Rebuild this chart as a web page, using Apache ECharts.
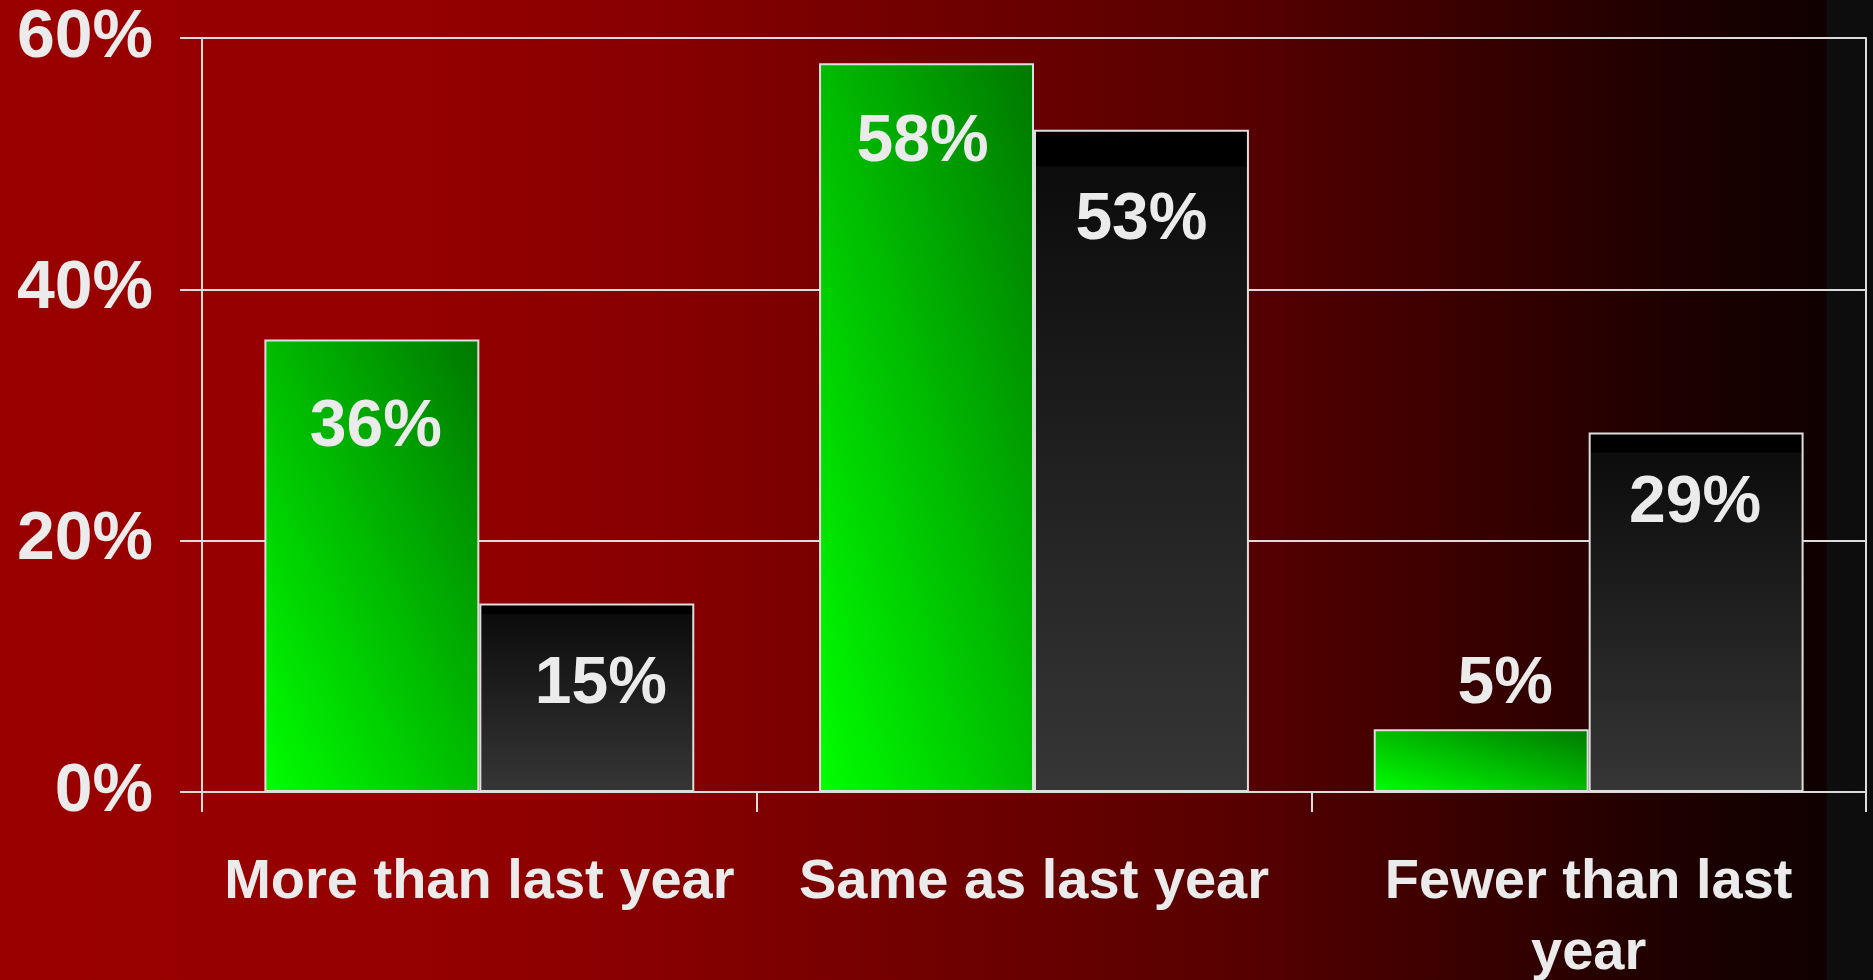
<!DOCTYPE html>
<html>
<head>
<meta charset="utf-8">
<script src="https://cdn.jsdelivr.net/npm/echarts@6/dist/echarts.min.js"></script>
<style>
  html, body { margin: 0; padding: 0; }
  #chart {
    width: 1873px; height: 980px;
    background: linear-gradient(to right, #990000 0px, #960000 400px, #880000 650px, #560000 1250px, #1e0000 1672px, #100000 1826px, #0e0e0e 1827px, #0c0c0c 1873px);
  }
</style>
</head>
<body>
<div id="chart"></div>
<script>
const categories = ['More than last year', 'Same as last year', 'Fewer than last year'];
const greenValues = [36, 58, 5];
const blackValues = [15, 52.7, 28.6];
const yTicks = [0, 20, 40, 60];

const FONT = '"Liberation Sans", Arial, sans-serif';
const TXT = '#ebebeb';
const LINE = '#dcdcdc';

const GRID = { left: 202, right: 7, top: 38, bottom: 188 };
const plotH = 980 - GRID.top - GRID.bottom;
const barW = (1873 - GRID.left - GRID.right) / categories.length * (1 - 0.225) / 2;

const chart = echarts.init(document.getElementById('chart'), null, { renderer: 'canvas' });

// diagonal gradient (bottom-left bright -> top-right dark) with isolines along the box diagonal
function greenFill(v) {
  const w = barW, h = v / yTicks[yTicks.length - 1] * plotH;
  const L2 = w * w + h * h;
  return {
    type: 'linear', x: 0, y: 1, x2: 2 * h * h / L2, y2: 1 - 2 * w * w / L2,
    colorStops: [{ offset: 0, color: '#00ff00' }, { offset: 1, color: '#007800' }]
  };
}
const blackFill = {
  type: 'linear', x: 0, y: 0, x2: 0, y2: 1,
  colorStops: [
    { offset: 0, color: '#000000' }, { offset: 0.055, color: '#000000' },
    { offset: 0.056, color: '#0c0c0c' }, { offset: 1, color: '#363636' }
  ]
};

const labelBase = {
  show: true, color: TXT, fontFamily: FONT, fontWeight: 'bold', fontSize: 66,
  formatter: p => Math.round(p.value) + '%'
};

const greenLabels = [
  { position: 'insideTop', distance: 55, offset: [4, 0] },
  { position: 'insideTop', distance: 47, offset: [-4, 0] },
  { position: 'top', distance: 11, offset: [24, 0] }
];
const blackLabels = [
  { position: 'insideTop', distance: 48, offset: [14, 0] },
  { position: 'insideTop', distance: 58, offset: [0, 0] },
  { position: 'insideTop', distance: 38, offset: [-1, 0] }
];

// wrap the last word of long category names onto a second line
function wrapLabel(v) {
  if (v.length <= 19) return v;
  const k = v.lastIndexOf(' ');
  return v.slice(0, k) + '\n' + v.slice(k + 1);
}

const option = {
  backgroundColor: 'transparent',
  animation: false,
  grid: Object.assign({ containLabel: false, outerBoundsMode: 'none' }, GRID),
  xAxis: {
    type: 'category',
    data: categories,
    axisLine: { show: true, lineStyle: { color: LINE, width: 2 } },
    axisTick: { show: true, length: 20, alignWithLabel: false, lineStyle: { color: LINE, width: 2 } },
    axisLabel: {
      color: TXT, fontFamily: FONT, fontWeight: 'bold', fontSize: 56,
      lineHeight: 71, margin: 55, interval: 0, formatter: wrapLabel
    },
    splitLine: { show: false }
  },
  yAxis: [{
    type: 'value', min: yTicks[0], max: yTicks[yTicks.length - 1], interval: 20,
    axisLine: { show: true, lineStyle: { color: LINE, width: 2 } },
    axisTick: { show: true, length: 22, lineStyle: { color: LINE, width: 2 } },
    axisLabel: {
      color: TXT, fontFamily: FONT, fontWeight: 'bold', fontSize: 68, margin: 49,
      formatter: '{value}%'
    },
    splitLine: { show: true, lineStyle: { color: LINE, width: 2 } }
  }, {
    type: 'value', position: 'right', min: yTicks[0], max: yTicks[yTicks.length - 1], interval: 20,
    axisLine: { show: true, lineStyle: { color: LINE, width: 2 } },
    axisTick: { show: false }, axisLabel: { show: false }, splitLine: { show: false }
  }],
  series: [{
    name: 'Series 1', type: 'bar', barGap: '0%', barCategoryGap: '22.5%',
    itemStyle: { borderColor: '#dedede', borderWidth: 2 },
    label: labelBase,
    data: greenValues.map((v, i) => ({
      value: v,
      itemStyle: { color: greenFill(v) },
      label: Object.assign({}, labelBase, greenLabels[i])
    }))
  }, {
    name: 'Series 2', type: 'bar', barGap: '0%', barCategoryGap: '22.5%',
    itemStyle: { color: blackFill, borderColor: '#dedede', borderWidth: 2 },
    label: labelBase,
    data: blackValues.map((v, i) => ({ value: v, label: Object.assign({}, labelBase, blackLabels[i]) }))
  }]
};

chart.setOption(option);
</script>
</body>
</html>
